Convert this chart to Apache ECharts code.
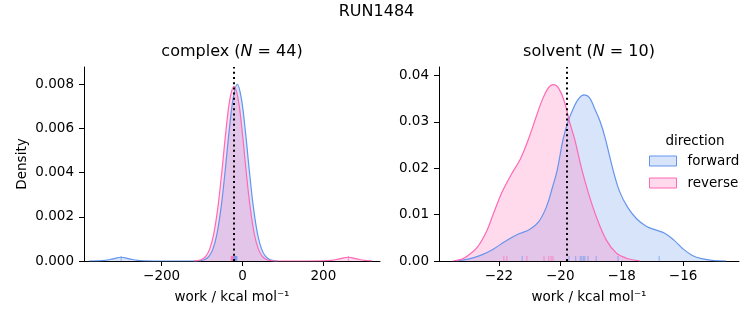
<!DOCTYPE html>
<html><head><meta charset="utf-8">
<script src="https://cdn.jsdelivr.net/npm/echarts@6/dist/echarts.min.js"></script>
<style>html,body{margin:0;padding:0;background:#fff}#c{width:753px;height:325px}</style>
</head><body><div id="c"></div>
<script>
// ---- data ----
const seriesNames = ['forward', 'reverse'];
const figureTitle = 'RUN1484';
const panelNames = ['complex', 'solvent'];
const panelN = [44, 10];

// complex panel KDE curves
const complexForwardX = [-380,-360,-340,-320,-300,-280,-260,-240,-220,-200,-150,-113,-103,-93,-83,-73,-63,-53,-43,-33,-23,-13,-3,7,17,27,37,47,57,67,77,87];
const complexForwardY = [0,0.000003,0.000025,0.0001,0.00017,0.0001,0.000025,0.000003,0,0,0,0,0.00002,0.00007,0.00021,0.00055,0.00124,0.00242,0.00406,0.00588,0.00736,0.0080,0.00736,0.00588,0.00406,0.00242,0.00124,0.00055,0.00021,0.00007,0.00002,0];
const complexReverseX = [-121,-111,-101,-91,-81,-71,-61,-51,-41,-31,-21,-11,-1,9,19,29,39,49,59,69,79,120,200,220,240,262,282,302,320];
const complexReverseY = [0,0.00002,0.00007,0.00021,0.00055,0.00124,0.00242,0.00406,0.00588,0.00734,0.0079,0.00734,0.00588,0.00406,0.00242,0.00124,0.00055,0.00021,0.00007,0.00002,0,0,0.000003,0.000025,0.0001,0.00017,0.0001,0.000025,0.000003];
const complexForwardRug = [-300,-22,-20,-19,-18,-17,-16,-15,-14];
const complexReverseRug = [262,-28,-27,-26,-25,-24,-23];
const complexEstimate = -21;

// solvent panel KDE curves
const solventForwardX = [-23.4,-23.0,-22.6,-22.2,-21.8,-21.4,-21.0,-20.7,-20.45,-20.25,-20.1,-19.91,-19.75,-19.58,-19.4,-19.22,-19.05,-18.88,-18.7,-18.55,-18.28,-18.07,-17.8,-17.5,-17.2,-16.9,-16.6,-16.3,-16.0,-15.7,-15.4,-15.0,-14.6];
const solventForwardY = [0,0.0004,0.0012,0.0025,0.0042,0.0057,0.0068,0.0085,0.0117,0.016,0.0196,0.0262,0.0300,0.0328,0.0350,0.0358,0.0352,0.0328,0.0300,0.0268,0.0196,0.0150,0.0115,0.0090,0.0075,0.0067,0.0060,0.0045,0.0026,0.0012,0.0005,0.0001,0];
const solventReverseX = [-23.5,-23.2,-23.0,-22.7,-22.4,-22.2,-21.9,-21.6,-21.3,-21.05,-20.8,-20.6,-20.4,-20.23,-20.05,-19.85,-19.7,-19.53,-19.31,-19.1,-18.83,-18.5,-18.17,-17.85,-17.4];
const solventReverseY = [0,0.0004,0.0012,0.003,0.0064,0.0098,0.0148,0.0186,0.0220,0.0260,0.0308,0.0345,0.0372,0.0380,0.0372,0.0340,0.0300,0.0262,0.0200,0.0150,0.0096,0.0045,0.0017,0.0006,0];
const solventForwardRug = [-21.24,-19.72,-19.5,-19.35,-19.3,-19.24,-19.2,-19.1,-18.83,-18.12,-16.78];
const solventReverseRug = [-21.84,-21.74,-21.09,-20.53,-20.38,-20.3,-20.24];
const solventEstimate = -19.8;

// axes
const complexXTicks = [-200, 0, 200];
const complexXRange = [-392, 340];
const complexYMax = 0.00877;
const complexYStep = 0.002;
const solventXTicks = [-22, -20, -18, -16];
const solventXRange = [-23.95, -14.18];
const solventYMax = 0.0418;
const solventYStep = 0.01;
const xAxisTitle = 'work / kcal mol\u207B\u00B9';
const yAxisTitle = 'Density';
const legendTitle = 'direction';

// ---- styling ----
const FONT = 'DejaVu Sans';
const BLUE = '#6495ED', PINK = '#FF69B4';
const BLUE_FILL = 'rgba(100,149,237,0.25)', PINK_FILL = 'rgba(255,105,180,0.25)';
const minus = v => String(v).replace('-', '\u2212');
const zip = (xs, ys) => xs.map((x, i) => [x, ys[i]]);

function curve(name, xs, ys, color, idx) {
  return {
    name: name, type: 'line', xAxisIndex: idx, yAxisIndex: idx,
    data: zip(xs, ys), smooth: 0.4, symbol: 'none', showSymbol: false,
    lineStyle: { color: color, width: 1.2 },
    itemStyle: { color: color },
    areaStyle: { color: color, opacity: 0.25 },
    z: 2
  };
}
function rug(name, xs, color, idx) {
  return {
    name: name, type: 'scatter', xAxisIndex: idx, yAxisIndex: idx,
    data: xs.map(x => [x, 0]), symbol: 'rect', symbolSize: [1.2, 5], symbolOffset: [0, -2.5],
    itemStyle: { color: color, opacity: 0.55 }, silent: true, z: 3
  };
}
function vline(value, idx) {
  return {
    type: 'line', xAxisIndex: idx, yAxisIndex: idx, data: [], silent: true,
    markLine: {
      symbol: ['none', 'none'], silent: true, animation: false,
      label: { show: false },
      lineStyle: { color: '#000', width: 2, type: [2, 3.2], opacity: 1 },
      data: [{ xAxis: value }]
    },
    z: 5
  };
}
function xAxisDef(idx, range, ticks) {
  return {
    type: 'value', gridIndex: idx, min: range[0], max: range[1],
    splitLine: { show: false },
    axisLine: { show: true, onZero: false, lineStyle: { color: '#000', width: 1 } },
    axisTick: { show: true, length: 5, lineStyle: { color: '#000', width: 1 }, customValues: ticks },
    axisLabel: { show: true, color: '#000', fontFamily: FONT, fontSize: 13.5, margin: 8, customValues: ticks, formatter: v => minus(v) },
    name: xAxisTitle, nameLocation: 'middle', nameGap: 29,
    nameTextStyle: { color: '#000', fontFamily: FONT, fontSize: 13.5 }
  };
}
function yAxisDef(idx, max, step, digits, withName) {
  return {
    type: 'value', gridIndex: idx, min: 0, max: max, interval: step,
    splitLine: { show: false },
    axisLine: { show: true, onZero: false, lineStyle: { color: '#000', width: 1 } },
    axisTick: { show: true, length: 5, lineStyle: { color: '#000', width: 1 } },
    axisLabel: { show: true, color: '#000', fontFamily: FONT, fontSize: 13.5, margin: 10, showMaxLabel: false,
      formatter: v => v.toFixed(digits) },
    name: withName ? yAxisTitle : '', nameLocation: 'middle', nameGap: 55, nameRotate: 90,
    nameTextStyle: { color: '#000', fontFamily: FONT, fontSize: 13.5 }
  };
}
function panelTitle(i, left) {
  return {
    text: '{a|' + panelNames[i] + ' (}{i|N}{a| = ' + panelN[i] + ')}',
    left: left, top: 44, textAlign: 'center', padding: 0,
    textStyle: { fontWeight: 'normal', rich: {
      a: { fontFamily: FONT, fontSize: 16, color: '#000', fontWeight: 'normal' },
      i: { fontFamily: FONT, fontSize: 16, color: '#000', fontStyle: 'italic', fontWeight: 'normal' } } }
  };
}

const chart = echarts.init(document.getElementById('c'), null, { renderer: 'canvas' });
chart.setOption({
  animation: false,
  backgroundColor: '#fff',
  title: [
    { text: figureTitle, left: 376.5, top: 4, textAlign: 'center', padding: 0,
      textStyle: { fontFamily: FONT, fontSize: 16, fontWeight: 'normal', color: '#000' } },
    panelTitle(0, 232),
    panelTitle(1, 589),
    { text: legendTitle, left: 695, top: 134, textAlign: 'center', padding: 0,
      textStyle: { fontFamily: FONT, fontSize: 13.5, fontWeight: 'normal', color: '#000' } }
  ],
  legend: {
    orient: 'vertical', left: 649, top: 154, padding: 0, itemGap: 8,
    itemWidth: 27, itemHeight: 10, selectedMode: false,
    textStyle: { fontFamily: FONT, fontSize: 13.5, color: '#000', padding: [0, 0, 0, 6] },
    data: [
      { name: seriesNames[0], icon: 'rect', itemStyle: { color: BLUE_FILL, borderColor: BLUE, borderWidth: 1 } },
      { name: seriesNames[1], icon: 'rect', itemStyle: { color: PINK_FILL, borderColor: PINK, borderWidth: 1 } }
    ]
  },
  grid: [
    { left: 84, top: 67, width: 296, height: 194, containLabel: false },
    { left: 439, top: 67, width: 300, height: 194, containLabel: false }
  ],
  xAxis: [xAxisDef(0, complexXRange, complexXTicks), xAxisDef(1, solventXRange, solventXTicks)],
  yAxis: [yAxisDef(0, complexYMax, complexYStep, 3, true), yAxisDef(1, solventYMax, solventYStep, 2, false)],
  series: [
    curve(seriesNames[0], complexForwardX, complexForwardY, BLUE, 0),
    curve(seriesNames[1], complexReverseX, complexReverseY, PINK, 0),
    rug(seriesNames[0], complexForwardRug, BLUE, 0),
    rug(seriesNames[1], complexReverseRug, PINK, 0),
    vline(complexEstimate, 0),
    curve(seriesNames[0], solventForwardX, solventForwardY, BLUE, 1),
    curve(seriesNames[1], solventReverseX, solventReverseY, PINK, 1),
    rug(seriesNames[0], solventForwardRug, BLUE, 1),
    rug(seriesNames[1], solventReverseRug, PINK, 1),
    vline(solventEstimate, 1)
  ]
});
</script></body></html>
